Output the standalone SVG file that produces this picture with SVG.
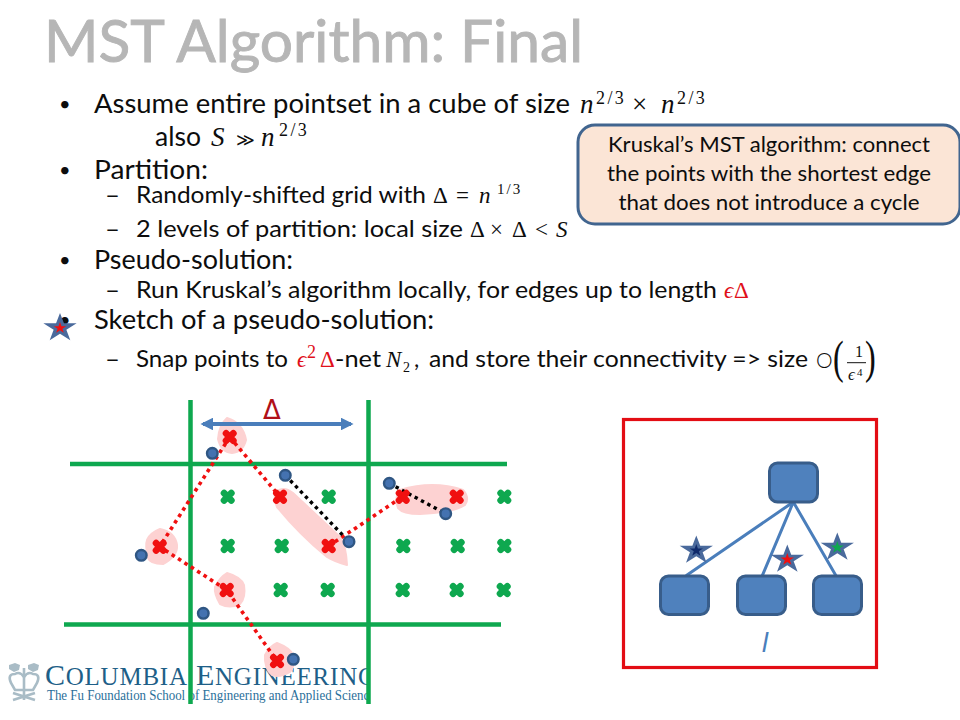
<svg xmlns="http://www.w3.org/2000/svg" width="960" height="720" viewBox="0 0 960 720">
<style>
text{font-family:"Lato","Open Sans",sans-serif;fill:#0d0d0d}
.title{font-size:58px;fill:#b6b6b6;stroke:#b6b6b6;stroke-width:.9px}
.b{font-size:26.5px}
.s{font-size:23px}
.bl{font-size:20px}
.m{font-family:"Liberation Serif",serif;font-size:27px}
.ms{font-family:"Liberation Serif",serif;font-size:23px}
.i{font-style:italic}
.sup{font-family:"Liberation Serif",serif;font-size:18px;letter-spacing:2.4px}
.red{fill:#e0101a}
.call{font-size:21.5px;text-anchor:middle}
.grid{stroke:#0ea84f;stroke-width:4.5;fill:none}
.blob{fill:#fdd2d2;stroke:#fdd2d2;stroke-width:2;stroke-linejoin:round}
.rd{fill:none;stroke:#f01010;stroke-width:3.6;stroke-dasharray:3.6 4}
.bd{fill:none;stroke:#000;stroke-width:3.4;stroke-dasharray:3.4 3.8}
.dot{fill:#4472b0;stroke:#2f5683;stroke-width:2.4}
.node{fill:#4f81bd;stroke:#385d8a;stroke-width:3}
.edge{stroke:#4a7ebb;stroke-width:3;fill:none}
.star{fill:#4a6a9c}
</style>
<defs>
<path id="xg" d="M-3.6-3.6L3.6 3.6M3.6-3.6L-3.6 3.6" stroke="#0ea84f" stroke-width="6.8" stroke-linecap="round" fill="none"/>
<path id="xr" d="M-3.6-3.6L3.6 3.6M3.6-3.6L-3.6 3.6" stroke="#f01010" stroke-width="6.8" stroke-linecap="round" fill="none"/>
<polygon id="st" points="0,-1 .225,-.309 .951,-.309 .363,.118 .588,.809 0,.382 -.588,.809 -.363,.118 -.951,-.309 -.225,-.309"/>
<marker id="ah" viewBox="0 0 10 10" refX="8" refY="5" markerWidth="3.2" markerHeight="3.2" orient="auto-start-reverse"><path d="M0 0L10 5L0 10z" fill="#4a7ebb"/></marker>
<clipPath id="lc"><rect x="0" y="650" width="368" height="60"/></clipPath>
</defs>

<g id="logo" clip-path="url(#lc)">
<g fill="none" stroke="#a9bcc6" stroke-width="2.6">
<path d="M11 683Q7 674 15 674Q20 671 24 677Q28 671 33 674Q41 674 37 683L33 690H15z"/>
<path d="M24 668V700M13 693L35 700M35 693L13 700"/>
</g>
<path d="M9 665l6-2 5 2-1 5-5 2-5-3zM28 665l6-2 5 2-1 5-5 2-5-3z" fill="#a9bcc6"/>
<text x="45" y="685" textLength="331" lengthAdjust="spacing" style="font-family:'Liberation Serif',serif;font-size:30px;fill:#1e5f88">C<tspan style="font-size:25px">OLUMBIA</tspan> E<tspan style="font-size:25px">NGINEERING</tspan></text>
<text x="47" y="700" textLength="328" lengthAdjust="spacingAndGlyphs" style="font-family:'Liberation Serif',serif;font-size:14.2px;fill:#2a6f9a">The Fu Foundation School of Engineering and Applied Science</text>
</g>

<text class="title" x="44" y="62" textLength="539" lengthAdjust="spacingAndGlyphs">MST Algorithm: Final</text>

<g id="bullets">
<text class="bl" x="59" y="111">•</text>
<text class="b" x="94" y="113" textLength="476" lengthAdjust="spacingAndGlyphs">Assume entire pointset in a cube of size</text>
<text class="m i" x="580" y="113">n</text><text class="sup" x="596" y="104">2/3</text>
<text class="m" x="632" y="113">×</text>
<text class="m i" x="661" y="113">n</text><text class="sup" x="677" y="104">2/3</text>

<text class="b" x="155" y="146" textLength="46" lengthAdjust="spacingAndGlyphs">also</text>
<text class="m i" x="211" y="146">S</text>
<text class="m" x="236" y="146" style="font-family:'DejaVu Serif',serif;font-size:18px">≫</text>
<text class="m i" x="261" y="146">n</text><text class="sup" x="279" y="136">2/3</text>

<text class="bl" x="59" y="177">•</text>
<text class="b" x="94" y="179" textLength="114" lengthAdjust="spacingAndGlyphs">Partition:</text>

<text class="s" x="105" y="203" textLength="15" lengthAdjust="spacingAndGlyphs">–</text>
<text class="s" x="136" y="203" textLength="290" lengthAdjust="spacingAndGlyphs">Randomly-shifted grid with</text>
<text class="ms" x="433" y="203">Δ</text><text class="ms" x="456" y="203">=</text><text class="ms i" x="479" y="203">n</text><text class="sup" x="497" y="194" style="font-size:15px;letter-spacing:2px">1/3</text>

<text class="s" x="105" y="237" textLength="15" lengthAdjust="spacingAndGlyphs">–</text>
<text class="s" x="136" y="237" textLength="327" lengthAdjust="spacingAndGlyphs">2 levels of partition: local size</text>
<text class="ms" x="470" y="237">Δ</text><text class="ms" x="490" y="237">×</text><text class="ms" x="512" y="237">Δ</text><text class="ms" x="535" y="237">&lt;</text><text class="ms i" x="556" y="237">S</text>

<text class="bl" x="59" y="267">•</text>
<text class="b" x="94" y="269" textLength="199" lengthAdjust="spacingAndGlyphs">Pseudo-solution:</text>

<text class="s" x="105" y="298" textLength="15" lengthAdjust="spacingAndGlyphs">–</text>
<text class="s" x="136" y="298" textLength="581" lengthAdjust="spacingAndGlyphs">Run Kruskal’s algorithm locally, for edges up to length</text>
<text class="ms i red" x="724" y="298">ϵ</text><text class="ms red" x="734" y="298">Δ</text>

<text class="bl" x="59" y="327">•</text>
<text class="b" x="94" y="329" textLength="340" lengthAdjust="spacingAndGlyphs">Sketch of a pseudo-solution:</text>

<text class="s" x="105" y="367" textLength="15" lengthAdjust="spacingAndGlyphs">–</text>
<text class="s" x="136" y="367" textLength="152" lengthAdjust="spacingAndGlyphs">Snap points to</text>
<text class="ms i red" x="297" y="367">ϵ</text><text class="sup red" x="307" y="358">2</text><text class="ms red" x="320" y="367">Δ</text>
<text class="s" x="335" y="367" textLength="46" lengthAdjust="spacingAndGlyphs">-net</text>
<text class="ms i" x="386" y="367">N</text><text class="sup" x="403" y="372" style="font-size:14px">2</text>
<text class="s" x="414" y="367">,</text>
<text class="s" x="429" y="367" textLength="379" lengthAdjust="spacingAndGlyphs">and store their connectivity =&gt; size</text>
<text x="816" y="368" style="font-size:21px;font-weight:300">O</text>
<text class="m" x="833" y="373" style="font-size:46px" transform="translate(833 373) scale(.7 1) translate(-833 -373)">(</text>
<text class="m" x="855" y="357" style="font-size:16px">1</text>
<path d="M847 362.7H866" stroke="#111" stroke-width="1" fill="none"/>
<text class="m i" x="848" y="380" style="font-size:17px">ϵ</text><text class="sup" x="857" y="376" style="font-size:11px">4</text>
<text class="m" x="865" y="373" style="font-size:46px" transform="translate(865 373) scale(.7 1) translate(-865 -373)">)</text>
</g>

<g id="callout">
<rect x="578" y="125" width="382" height="99" rx="17" fill="#fbe5d6" stroke="#41658f" stroke-width="3"/>
<text class="call" x="769" y="152" textLength="322" lengthAdjust="spacingAndGlyphs">Kruskal’s MST algorithm: connect</text>
<text class="call" x="769" y="181" textLength="324" lengthAdjust="spacingAndGlyphs">the points with the shortest edge</text>
<text class="call" x="769" y="210" textLength="301" lengthAdjust="spacingAndGlyphs">that does not introduce a cycle</text>
</g>

<g id="star-bullet"><use href="#st" transform="translate(60 328) scale(17.5 15)" class="star"/><use href="#st" transform="translate(60 328) scale(6.5 6)" fill="#f01010"/></g>

<g id="blobs">
<path class="blob" d="M227 418Q243 423 246 440Q243 452 232 453Q221 452 218 439Q219 425 227 418z"/>
<path class="blob" d="M160 529Q175 532 177 545Q178 556 163 564Q150 564 148 558Q145 545 147 540Q150 533 160 529z"/>
<path class="blob" d="M227 573Q241 577 244 585Q246 598 240 604Q230 609 220 604Q214 594 215 587Q220 577 227 573z"/>
<path class="blob" d="M277 643Q290 648 293 655Q295 668 290 672Q280 678 272 675Q264 668 265 655Q270 646 277 643z"/>
<path class="blob" d="M275 493Q283 485 293 493L340 537Q346 545 347 565Q335 562 327 557Q300 535 277 507Q274 500 275 493z"/>
<path class="blob" d="M400 490Q433 480 463 490Q470 498 465 505Q455 512 420 514Q403 514 398 508Q394 498 400 490z"/>
</g>

<g id="grid">
<path class="grid" d="M190.5 400V704M368.5 400V704M70 464H507M64 624.5H501"/>
</g>

<g id="delta-span">
<path d="M203 424H351" stroke="#4a7ebb" stroke-width="4" marker-start="url(#ah)" marker-end="url(#ah)" fill="none"/>
<text x="272" y="419" text-anchor="middle" style="font-family:'DejaVu Sans',sans-serif;font-size:26px;fill:#b01018">Δ</text>
</g>

<g id="grid-points">
<use href="#xg" x="227.7" y="496.7"/><use href="#xg" x="328.7" y="496.7"/><use href="#xg" x="504.3" y="496.7"/>
<use href="#xg" x="227.7" y="546"/><use href="#xg" x="281.7" y="546"/><use href="#xg" x="403.3" y="546"/><use href="#xg" x="457.7" y="546"/><use href="#xg" x="504.3" y="546"/>
<use href="#xg" x="280.7" y="590"/><use href="#xg" x="327.7" y="590"/><use href="#xg" x="402.7" y="590"/><use href="#xg" x="456.7" y="590"/><use href="#xg" x="503.7" y="590"/>
</g>

<g id="connectors">
<path class="rd" d="M229.7 437L159.7 546.7L226.7 590L277 661"/>
<path class="rd" d="M229.7 437L280 496.7"/>
<path class="rd" d="M328.7 546L402.7 496.7"/>
<path class="bd" d="M285.3 475.3L349 541.7"/>
<path class="bd" d="M389.3 483.3L445.7 513.7"/>
<path class="edge" d="M793.3 502L686 575.7M793.3 502L762.3 575.7M793.3 502L836 575.7"/>
</g>

<g id="net-points">
<use href="#xr" x="229.7" y="437"/><use href="#xr" x="280" y="496.7"/><use href="#xr" x="402.7" y="496.7"/><use href="#xr" x="456.7" y="496.7"/>
<use href="#xr" x="328.7" y="546"/><use href="#xr" x="159.7" y="546.7"/><use href="#xr" x="226.7" y="590"/><use href="#xr" x="277" y="661"/>
</g>

<g id="points">
<circle class="dot" cx="212.3" cy="453.3" r="5.3"/><circle class="dot" cx="285.3" cy="475.3" r="5.3"/><circle class="dot" cx="389.3" cy="483.3" r="5.3"/><circle class="dot" cx="445.7" cy="513.7" r="5.3"/>
<circle class="dot" cx="349" cy="541.7" r="5.3"/><circle class="dot" cx="141.3" cy="555.3" r="5.3"/><circle class="dot" cx="203.3" cy="613.3" r="5.3"/><circle class="dot" cx="293.3" cy="659.3" r="5.3"/>
</g>

<g id="panel"><rect x="623.5" y="419.5" width="253" height="248" fill="none" stroke="#e30d14" stroke-width="3.2"/></g>
<g id="node-root"><rect class="node" x="769.5" y="463" width="48" height="39" rx="8"/></g>
<g id="node-a"><rect class="node" x="660.5" y="576" width="48" height="38.5" rx="8"/></g>
<g id="node-b"><rect class="node" x="737.5" y="576" width="48" height="38.5" rx="8"/></g>
<g id="node-c"><rect class="node" x="813.5" y="576" width="48" height="38.5" rx="8"/></g>
<g id="star-a"><use href="#st" transform="translate(696.3 550.5) scale(17.5 15)" class="star"/><use href="#st" transform="translate(696.3 550.5) scale(7 6.5)" fill="#0f2a6a"/></g>
<g id="star-b"><use href="#st" transform="translate(787.3 559.5) scale(17.5 15)" class="star"/><use href="#st" transform="translate(787.3 559.5) scale(7 6.5)" fill="#f01010"/></g>
<g id="star-c"><use href="#st" transform="translate(837.3 547.5) scale(17.5 15)" class="star"/><use href="#st" transform="translate(837.3 547.5) scale(7 6.5)" fill="#0ea84f"/></g>
<text x="762" y="652" style="font-family:'Liberation Sans',sans-serif;font-style:italic;font-size:27px;fill:#4a7ebb">l</text>
</svg>
